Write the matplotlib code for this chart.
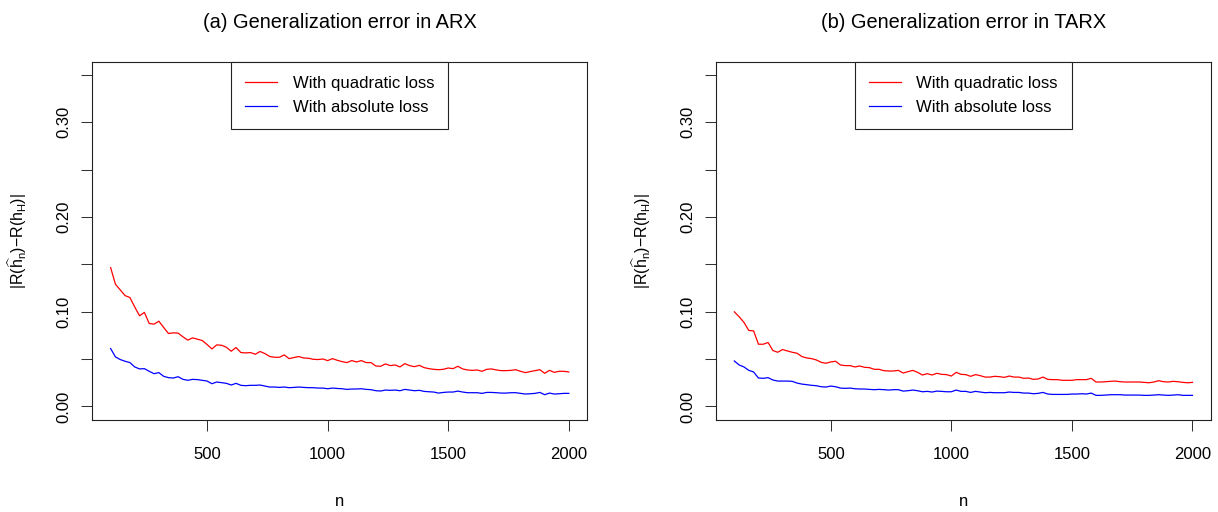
import numpy as np
import matplotlib
matplotlib.use("Agg")
import matplotlib.pyplot as plt

plt.rcParams['font.family'] = ['Liberation Sans', 'DejaVu Sans']
plt.rcParams['mathtext.fontset'] = 'custom'
plt.rcParams['mathtext.rm'] = 'Liberation Sans'
plt.rcParams['mathtext.it'] = 'Liberation Sans'

# sample sizes
n = np.arange(100, 2001, 20)

# (a) ARX
arx_quad = [0.1466, 0.129, 0.123, 0.117, 0.115, 0.105, 0.0957, 0.0993, 0.0876, 0.0869,
            0.090, 0.0834, 0.077, 0.0777, 0.0774, 0.0735, 0.070, 0.0724, 0.071, 0.0696,
            0.0654, 0.0607, 0.065, 0.0646, 0.0625, 0.0583, 0.0622, 0.0569, 0.0565, 0.0569,
            0.0551, 0.058, 0.0558, 0.0527, 0.0519, 0.0519, 0.0544, 0.0505, 0.0516, 0.0527,
            0.0512, 0.0509, 0.0498, 0.0495, 0.0501, 0.0484, 0.0505, 0.0487, 0.0473, 0.0463,
            0.0484, 0.047, 0.0484, 0.0463, 0.0463, 0.0427, 0.0424,
            0.0449, 0.0431, 0.0438, 0.0417, 0.0452, 0.0431, 0.042, 0.0434, 0.041, 0.0399,
            0.0392, 0.0388, 0.0392, 0.0406, 0.0399, 0.0424, 0.0396, 0.0385, 0.0381, 0.0385,
            0.0371, 0.0392, 0.0396, 0.0385, 0.0378, 0.0378, 0.0381, 0.0388, 0.0371, 0.0357,
            0.0368, 0.0378, 0.0388, 0.035, 0.0381, 0.036, 0.0371, 0.0371, 0.0364]
arx_abs = [0.0611, 0.0523, 0.0495, 0.0477, 0.0463, 0.0417, 0.0396, 0.0399, 0.0371, 0.0346,
           0.0357, 0.0318, 0.0304, 0.030, 0.0314, 0.0286, 0.0276, 0.0286, 0.0283, 0.0276,
           0.0268, 0.024, 0.0258, 0.0251, 0.0244, 0.0226, 0.0244, 0.0223, 0.0219, 0.0223,
           0.0223, 0.0226, 0.0215, 0.0205, 0.0205, 0.0201, 0.0205, 0.0198, 0.0201, 0.0205,
           0.0201, 0.0198, 0.0198, 0.0194, 0.0194, 0.0187, 0.0194, 0.019, 0.0187, 0.018,
           0.0184, 0.0184, 0.0187, 0.018, 0.0177, 0.0166, 0.0163, 0.0173,
           0.017, 0.0173, 0.0166, 0.018, 0.0173, 0.0166, 0.017, 0.0159, 0.0155, 0.0152,
           0.0141, 0.0148, 0.0152, 0.0152, 0.0162, 0.0152, 0.0145, 0.0145, 0.0145, 0.0138,
           0.0148, 0.0148, 0.0145, 0.0141, 0.0141, 0.0145, 0.0145, 0.0138, 0.0131, 0.0134,
           0.0138, 0.0148, 0.0124, 0.0141, 0.0131, 0.0134, 0.0138, 0.0138]

# (b) TARX
tarx_quad = [0.0999, 0.0947, 0.0887, 0.0802, 0.0798, 0.0657, 0.0657, 0.0675, 0.059, 0.0572,
             0.0601, 0.0586, 0.0572, 0.0562, 0.0527, 0.0512, 0.0505, 0.0491, 0.0466, 0.0456,
             0.047, 0.0477, 0.0438, 0.0431, 0.0431, 0.0417, 0.0427, 0.0413, 0.041, 0.0392,
             0.0392, 0.0378, 0.0374, 0.0374, 0.0381, 0.0353, 0.0367, 0.0381, 0.036, 0.0332,
             0.0346, 0.0332, 0.035, 0.0339, 0.0336, 0.0321, 0.036, 0.0339, 0.0336, 0.0318,
             0.0336, 0.0325, 0.031,
             0.031, 0.0318, 0.0314, 0.0307, 0.0321, 0.031, 0.031, 0.0297, 0.03, 0.0286,
             0.029, 0.031, 0.0286, 0.0283, 0.0283, 0.0276, 0.0276, 0.0276, 0.0283, 0.0283,
             0.0283, 0.0297, 0.0258, 0.0258, 0.0261, 0.0265, 0.0268, 0.0261, 0.0258, 0.0258,
             0.0258, 0.0258, 0.0254, 0.025, 0.0258, 0.0272, 0.0261, 0.0258, 0.0265, 0.0261,
             0.0254, 0.025, 0.0254]
tarx_abs = [0.048, 0.0438, 0.0417, 0.0381, 0.0364, 0.03, 0.0297, 0.0304, 0.0279, 0.0268,
            0.0268, 0.0268, 0.0265, 0.0247, 0.0236, 0.023, 0.0223, 0.0219, 0.0208, 0.0205,
            0.0215, 0.0208, 0.0194, 0.0191, 0.0194, 0.0187, 0.0184, 0.0184, 0.018, 0.0177,
            0.018, 0.0177, 0.0173, 0.0177, 0.0177, 0.0162, 0.0166, 0.0173, 0.0166, 0.0155,
            0.0159, 0.0152, 0.0162, 0.0159, 0.0155, 0.0155, 0.0173, 0.0159, 0.0159, 0.0148,
            0.0159, 0.0152, 0.0145,
            0.0148, 0.0145, 0.0145, 0.0145, 0.0152, 0.0148, 0.0148, 0.0141, 0.0141, 0.0134,
            0.0138, 0.0148, 0.0131, 0.0127, 0.0127, 0.0127, 0.0127, 0.0131, 0.0131, 0.0134,
            0.0131, 0.0141, 0.0117, 0.0117, 0.012, 0.0124, 0.0124, 0.0124, 0.012, 0.012,
            0.012, 0.012, 0.0117, 0.0117, 0.012, 0.0124, 0.012, 0.0117, 0.012, 0.0124,
            0.0117, 0.0117, 0.0117]

titles = ["(a) Generalization error in ARX", "(b) Generalization error in TARX"]
legend_labels = ["With quadratic loss", "With absolute loss"]
xticks = [500, 1000, 1500, 2000]
yticks = [0.0, 0.05, 0.10, 0.15, 0.20, 0.25, 0.30, 0.35]
ylab = r'$|\mathrm{R}(\widehat{\mathrm{h}}_\mathrm{n}){-}\mathrm{R}(\mathrm{h}_\mathrm{H})|$'

W, H = 1218, 512
fig = plt.figure(figsize=(W / 100, H / 100), dpi=100)


def draw_panel(left_px, quad, absl, title):
    ax = fig.add_axes([left_px / W, (H - 419.7) / H, 494.8 / W, 358.0 / H])
    ax.plot(n, quad, color='#ff0000', lw=0.9, label=legend_labels[0])
    ax.plot(n, absl, color='#0000ff', lw=0.9, label=legend_labels[1])
    ax.set_xlim(24, 2076)
    ax.set_ylim(-0.014, 0.364)
    ax.set_xticks(xticks)
    ax.set_xticklabels([str(t) for t in xticks])
    ax.set_yticks(yticks)
    ax.set_yticklabels(["%.2f" % t if i % 2 == 0 else "" for i, t in enumerate(yticks)],
                       rotation=90, va='center')
    ax.tick_params(axis='both', direction='out', length=8, width=0.75,
                   labelsize=12, color='#333333')
    ax.tick_params(axis='x', pad=11.5)
    ax.tick_params(axis='y', pad=7)
    for s in ax.spines.values():
        s.set_linewidth(0.8)
        s.set_color('#222222')
    ax.set_ylabel(ylab, fontsize=11.5)
    ax.yaxis.set_label_coords(-0.128, 0.5)
    leg = ax.legend(loc='upper center', borderaxespad=0, fancybox=False,
                    edgecolor='#222222', framealpha=1, fontsize=12,
                    handlelength=1.9, handletextpad=0.95, borderpad=0.85,
                    labelspacing=0.55)
    leg.get_frame().set_linewidth(0.8)
    cx = (left_px + 494.8 / 2) / W
    fig.text(cx, 1 - 28 / H, title, ha='center', va='baseline', fontsize=14.4)
    fig.text(cx, 6 / H, 'n', ha='center', va='baseline', fontsize=12)
    return ax


draw_panel(92.3, arx_quad, arx_abs, titles[0])
draw_panel(716.0, tarx_quad, tarx_abs, titles[1])

fig.savefig("out.png", dpi=100)
